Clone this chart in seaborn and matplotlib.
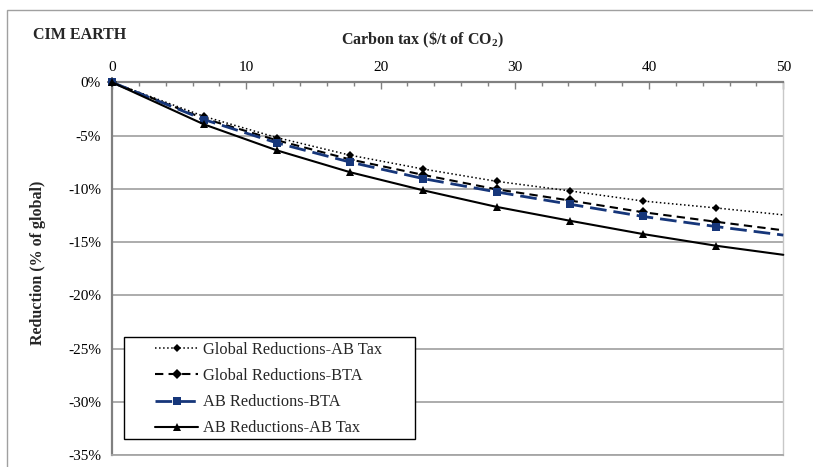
import numpy as np
import pandas as pd
import matplotlib
matplotlib.use("Agg")
import matplotlib.pyplot as plt
import matplotlib.ticker as ticker
from matplotlib.patches import Rectangle
import seaborn as sns

# carbon tax ($/t of CO2) and reductions (% of global)
tax = [0, 6.85, 12.3, 17.75, 23.2, 28.65, 34.1, 39.55, 45.0, 50]
global_ab_tax = [0, -3.2, -5.2, -6.85, -8.15, -9.3, -10.2, -11.15, -11.8, -12.45]
global_bta = [0, -3.4, -5.45, -7.25, -8.7, -10.05, -11.1, -12.2, -13.1, -13.9]
ab_bta = [0, -3.5, -5.7, -7.5, -9.05, -10.3, -11.45, -12.6, -13.55, -14.35]
ab_ab_tax = [0, -3.95, -6.4, -8.45, -10.15, -11.7, -13.0, -14.25, -15.35, -16.2]

series = ["Global Reductions-AB Tax", "Global Reductions-BTA",
          "AB Reductions-BTA", "AB Reductions-AB Tax"]

sns.set_style("white")
plt.rcParams['font.family'] = ['Liberation Serif', 'DejaVu Serif']
plt.rcParams['axes.unicode_minus'] = False
plt.rcParams['mathtext.fontset'] = 'custom'
plt.rcParams['mathtext.rm'] = 'Liberation Serif'
plt.rcParams['mathtext.bf'] = 'Liberation Serif:bold'

fig = plt.figure(figsize=(8.13, 4.67), dpi=100)
ax = fig.add_axes([112 / 813, 12 / 467, 671.3 / 813, 372.7 / 467])

styles = [
    dict(color='black', linestyle=':', linewidth=1.1, marker='D', markersize=4.5),
    dict(color='black', linestyle=(0, (4, 2.5)), linewidth=1.5, marker='D', markersize=5.5),
    dict(color='#16367a', linestyle=(0, (6, 2.5)), linewidth=2.0, marker='s', markersize=5.5),
    dict(color='black', linestyle='-', linewidth=1.5, marker='^', markersize=6),
]
values = [global_ab_tax, global_bta, ab_bta, ab_ab_tax]

for name, vals, st in zip(series, values, styles):
    df = pd.DataFrame({'tax': tax, 'red': vals})
    sns.lineplot(data=df, x='tax', y='red', ax=ax, label=name, sort=False,
                 markevery=list(range(len(tax) - 1)), clip_on=False,
                 markeredgewidth=0, zorder=3, **st)

ax.set_xlim(0, 50)
ax.set_ylim(-35, 0)
ax.xaxis.tick_top()
ax.xaxis.set_major_locator(ticker.MultipleLocator(10))
ax.xaxis.set_minor_locator(ticker.MultipleLocator(2))
ax.yaxis.set_major_locator(ticker.MultipleLocator(5))
ax.yaxis.set_minor_locator(ticker.MultipleLocator(1))
ax.yaxis.set_major_formatter(ticker.PercentFormatter(xmax=100, decimals=0))
ax.tick_params(axis='x', which='both', direction='in', colors='#808080',
               labelcolor='black', labelsize=11, pad=6)
ax.tick_params(axis='x', which='major', length=5, width=1)
ax.tick_params(axis='x', which='minor', length=3, width=1)
ax.tick_params(axis='y', which='both', direction='out', colors='#808080',
               labelcolor='black', labelsize=11, pad=3)
ax.tick_params(axis='y', which='major', length=5, width=1)
ax.tick_params(axis='y', which='minor', length=3, width=1)
ax.set_xlabel('')
ax.set_ylabel('')

ax.grid(axis='y', which='major', color='#a6a6a6', linewidth=1.3)
ax.grid(axis='x', visible=False)
for side in ['top', 'left']:
    ax.spines[side].set_color('#808080')
    ax.spines[side].set_linewidth(1.6)
ax.spines['bottom'].set_color('#a6a6a6')
ax.spines['bottom'].set_linewidth(1.3)
ax.spines['right'].set_color('#c8c8c8')
ax.spines['right'].set_linewidth(1.0)

fig.text(33 / 813, 1 - 35 / 467, 'CIM EARTH', fontsize=11.5, fontweight='bold',
         ha='left', va='center')
fig.text(423 / 813, 1 - 40 / 467, r'Carbon tax (\$/t of CO$_{\mathbf{2}}$)',
         fontsize=11.5, fontweight='bold', ha='center', va='center')
fig.text(38 / 813, 1 - 263 / 467, 'Reduction (% of global)', fontsize=11.5,
         fontweight='bold', ha='center', va='center', rotation=90)

# legend box
ax.add_patch(Rectangle((124 / 813, 28 / 467), 291 / 813, 102 / 467,
                       transform=fig.transFigure, facecolor='white',
                       edgecolor='black', linewidth=1, zorder=4, clip_on=False))
leg = ax.legend(loc='upper left', bbox_to_anchor=(155 / 813, 1 - 342 / 467),
                bbox_transform=fig.transFigure, frameon=False, fontsize=11.8,
                handlelength=2.65, handletextpad=0.3, labelspacing=0.62,
                borderpad=0, borderaxespad=0)
leg.set_zorder(5)

# outer chart frame
fig.add_artist(Rectangle((7 / 813, -0.05), 1.1, 1 - 10 / 467 + 0.05,
                         transform=fig.transFigure, fill=False,
                         edgecolor='#a0a0a0', linewidth=1, zorder=0))

fig.savefig('out.png', dpi=100)
